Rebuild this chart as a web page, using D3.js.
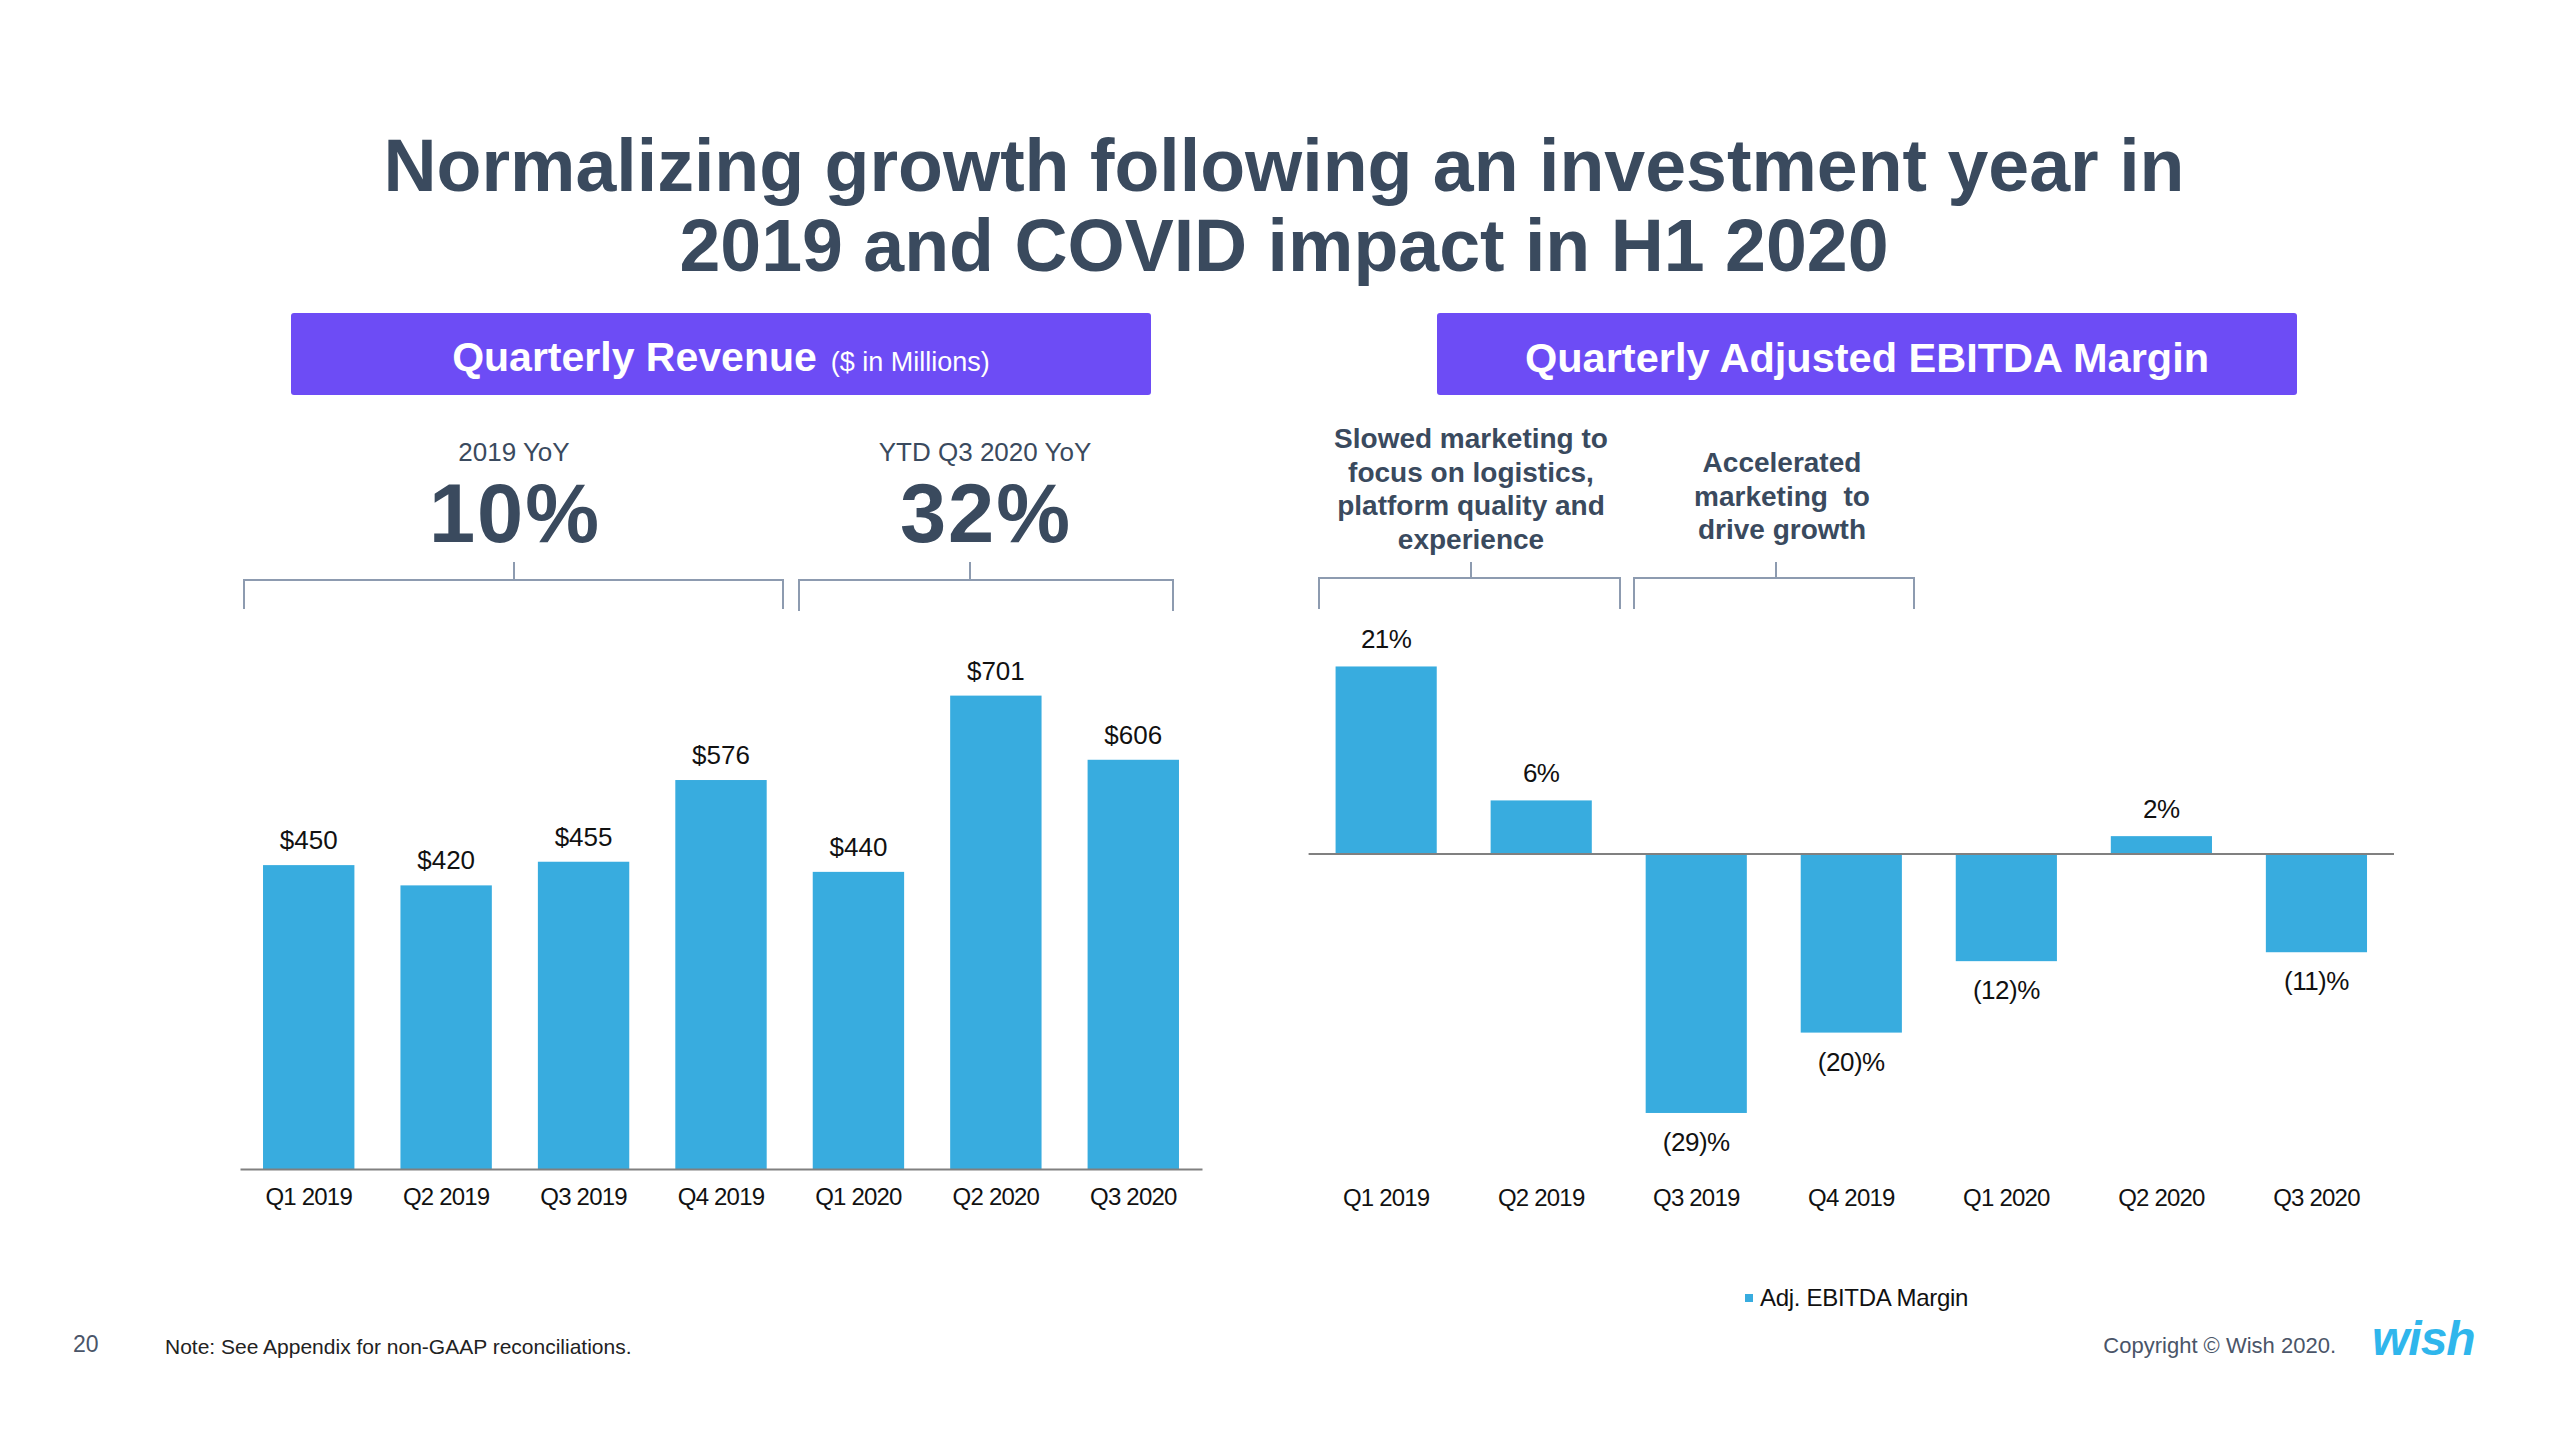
<!DOCTYPE html>
<html>
<head>
<meta charset="utf-8">
<script src="https://cdn.jsdelivr.net/npm/d3@7"></script>
<style>
  html, body { margin: 0; padding: 0; background: #ffffff; }
  svg { display: block; font-family: "Liberation Sans", Arial, Helvetica, sans-serif; }
</style>
</head>
<body>
<svg id="chart" width="2560" height="1440"></svg>
<script>
// ---------------- DATA ----------------
const quarters = ["Q1 2019", "Q2 2019", "Q3 2019", "Q4 2019", "Q1 2020", "Q2 2020", "Q3 2020"];
const revenue = [450, 420, 455, 576, 440, 701, 606];           // $ in millions
const ebitdaMargin = [21, 6, -29, -20, -12, 2, -11];             // %
const titleLines = ["Normalizing growth following an investment year in", "2019 and COVID impact in H1 2020"];
const revenueHeader = ["Quarterly Revenue", "($ in Millions)"];
const ebitdaHeader = "Quarterly Adjusted EBITDA Margin";
const growthLabels = ["2019 YoY", "YTD Q3 2020 YoY"];
const growthValues = ["10%", "32%"];
const noteLeft = ["Slowed marketing to", "focus on logistics,", "platform quality and", "experience"];
const noteRight = ["Accelerated", "marketing  to", "drive growth"];
const legendLabel = "Adj. EBITDA Margin";

// ---------------- STYLE ----------------
const slate = "#3a4a5e";
const purple = "#6d4cf5";
const barBlue = "#38acdf";
const bracketCol = "#8d9bb0";
const axisGray = "#808080";

const svg = d3.select("#chart");

// Title
svg.append("text").attr("x", 1284).attr("y", 191).attr("text-anchor", "middle")
  .attr("font-size", 73.5).attr("font-weight", "bold").attr("fill", slate).text(titleLines[0]);
svg.append("text").attr("x", 1284).attr("y", 271).attr("text-anchor", "middle")
  .attr("font-size", 73.5).attr("font-weight", "bold").attr("fill", slate).text(titleLines[1]);

// Header boxes
svg.append("rect").attr("x", 291).attr("y", 313).attr("width", 860).attr("height", 82).attr("rx", 3).attr("fill", purple);
svg.append("rect").attr("x", 1437).attr("y", 313).attr("width", 860).attr("height", 82).attr("rx", 3).attr("fill", purple);
const h1 = svg.append("text").attr("x", 721).attr("y", 371).attr("text-anchor", "middle").attr("fill", "#ffffff");
h1.append("tspan").attr("font-size", 41).attr("font-weight", "bold").text(revenueHeader[0]);
h1.append("tspan").attr("font-size", 27).attr("dx", 14).text(revenueHeader[1]);
svg.append("text").attr("x", 1867).attr("y", 372).attr("text-anchor", "middle").attr("fill", "#ffffff")
  .attr("font-size", 41.5).attr("font-weight", "bold").text(ebitdaHeader);

// ---------------- LEFT CHART: revenue ----------------
const xL = d3.scaleBand().domain(quarters).range([240, 1202]).paddingInner(0.335).paddingOuter(0.1675);
const yL = d3.scaleLinear().domain([0, 720]).range([1169, 1169 - 720 * 0.6753]);

svg.append("g").selectAll("rect").data(revenue).join("rect")
  .attr("x", (d, i) => xL(quarters[i]))
  .attr("y", d => yL(d))
  .attr("width", xL.bandwidth())
  .attr("height", d => yL(0) - yL(d))
  .attr("fill", barBlue);

svg.append("g").selectAll("text").data(revenue).join("text")
  .attr("x", (d, i) => xL(quarters[i]) + xL.bandwidth() / 2)
  .attr("y", d => yL(d) - 16)
  .attr("text-anchor", "middle").attr("font-size", 26).attr("fill", "#111")
  .text(d => "$" + d);

const axL = svg.append("g").attr("transform", `translate(0,${yL(0)})`)
  .call(d3.axisBottom(xL).tickSize(0).tickPadding(19));
axL.select(".domain").attr("stroke", axisGray).attr("stroke-width", 2);
axL.selectAll("text").attr("font-size", 24).attr("fill", "#111").attr("letter-spacing", -0.8)
  .attr("font-family", "Liberation Sans, Arial, sans-serif");

// Growth callouts
const growthX = [514, 985];
growthLabels.forEach((t, i) => {
  svg.append("text").attr("x", growthX[i]).attr("y", 461).attr("text-anchor", "middle")
    .attr("font-size", 26).attr("fill", slate).text(t);
  svg.append("text").attr("x", growthX[i] + 1).attr("y", 542).attr("text-anchor", "middle")
    .attr("font-size", 83).attr("font-weight", "bold").attr("letter-spacing", 2).attr("fill", slate).text(growthValues[i]);
});

function bracket(x0, x1, xt, yTop, yBot, yTick) {
  svg.append("path")
    .attr("d", `M${x0},${yBot}V${yTop}H${x1}V${yBot}M${xt},${yTop}V${yTick}`)
    .attr("fill", "none").attr("stroke", bracketCol).attr("stroke-width", 2);
}
bracket(244, 783, 514, 580, 609, 562);
bracket(799, 1173, 970, 580, 611, 562);

// ---------------- RIGHT CHART: EBITDA margin ----------------
const pxPerPct = 8.93;
const xR = d3.scaleBand().domain(quarters).range([1308.6, 2394]).paddingInner(0.3475).paddingOuter(0.174);
const yR = d3.scaleLinear().domain([-30, 22]).range([854 + 30 * pxPerPct, 854 - 22 * pxPerPct]);

svg.append("g").selectAll("rect").data(ebitdaMargin).join("rect")
  .attr("x", (d, i) => xR(quarters[i]))
  .attr("y", d => yR(Math.max(0, d)))
  .attr("width", xR.bandwidth())
  .attr("height", d => Math.abs(yR(d) - yR(0)))
  .attr("fill", barBlue);

const fmtPct = d => d < 0 ? "(" + Math.abs(d) + ")%" : d + "%";
svg.append("g").selectAll("text").data(ebitdaMargin).join("text")
  .attr("x", (d, i) => xR(quarters[i]) + xR.bandwidth() / 2)
  .attr("y", d => d >= 0 ? yR(d) - 18 : yR(d) + 38)
  .attr("text-anchor", "middle").attr("font-size", 26).attr("fill", "#111").attr("letter-spacing", -0.5)
  .text(fmtPct);

// zero line
svg.append("line").attr("x1", xR.range()[0]).attr("x2", xR.range()[1])
  .attr("y1", yR(0)).attr("y2", yR(0)).attr("stroke", axisGray).attr("stroke-width", 2);

const axR = svg.append("g").attr("transform", "translate(0,1170)")
  .call(d3.axisBottom(xR).tickSize(0).tickPadding(19));
axR.select(".domain").remove();
axR.selectAll("text").attr("font-size", 24).attr("fill", "#111").attr("letter-spacing", -0.8)
  .attr("font-family", "Liberation Sans, Arial, sans-serif");

// annotations
noteLeft.forEach((t, i) => {
  svg.append("text").attr("x", 1471).attr("y", 448 + i * 33.7).attr("text-anchor", "middle")
    .attr("font-size", 28).attr("font-weight", "bold").attr("fill", slate).text(t);
});
noteRight.forEach((t, i) => {
  svg.append("text").attr("x", 1782).attr("y", 472 + i * 33.7).attr("text-anchor", "middle")
    .attr("font-size", 28).attr("font-weight", "bold").attr("fill", slate).attr("xml:space", "preserve")
    .style("white-space", "pre").text(t);
});
bracket(1319, 1620, 1471, 578, 609, 562);
bracket(1634, 1914, 1776, 578, 609, 562);

// legend
svg.append("rect").attr("x", 1745).attr("y", 1294).attr("width", 8).attr("height", 8).attr("fill", barBlue);
svg.append("text").attr("x", 1760).attr("y", 1306).attr("font-size", 24).attr("fill", "#111")
  .attr("letter-spacing", -0.3).text(legendLabel);

// footer
svg.append("text").attr("x", 73).attr("y", 1352).attr("font-size", 23).attr("fill", "#4a5568").text("20");
svg.append("text").attr("x", 165).attr("y", 1354).attr("font-size", 21).attr("fill", "#222").text("Note: See Appendix for non-GAAP reconciliations.");
svg.append("text").attr("x", 2336).attr("y", 1353).attr("text-anchor", "end").attr("font-size", 22).attr("fill", "#4a5568").text("Copyright © Wish 2020.");
svg.append("text").attr("x", 2372).attr("y", 1355).attr("font-size", 48).attr("font-weight", "bold")
  .attr("font-style", "italic").attr("letter-spacing", -1).attr("fill", "#2fb6ec").text("wish");
</script>
</body>
</html>
